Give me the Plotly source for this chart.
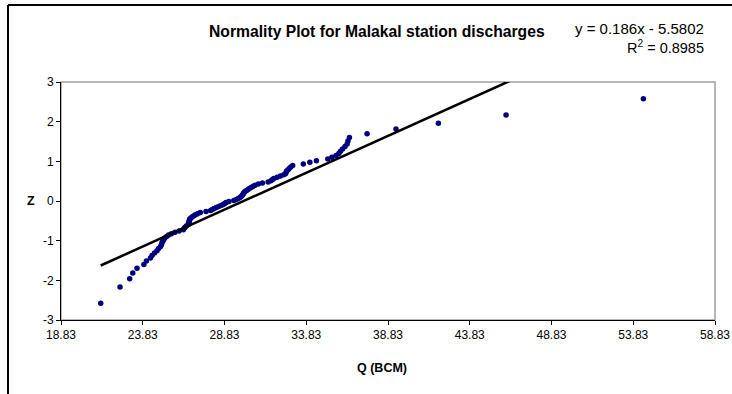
import plotly.graph_objects as go

# ---- data ----
z_values = [
    -2.576, -2.170, -1.960, -1.812, -1.695, -1.598, -1.514, -1.440, -1.372, -1.311,
    -1.254, -1.200, -1.150, -1.103, -1.058, -1.015, -0.974, -0.935, -0.896, -0.860,
    -0.824, -0.789, -0.755, -0.722, -0.690, -0.659, -0.628, -0.598, -0.568, -0.539,
    -0.510, -0.482, -0.454, -0.426, -0.399, -0.372, -0.345, -0.319, -0.292, -0.266,
    -0.240, -0.215, -0.189, -0.164, -0.138, -0.113, -0.088, -0.063, -0.038, -0.013,
    0.013, 0.038, 0.063, 0.088, 0.113, 0.138, 0.164, 0.189, 0.215, 0.240,
    0.266, 0.292, 0.319, 0.345, 0.372, 0.399, 0.426, 0.454, 0.482, 0.510,
    0.539, 0.568, 0.598, 0.628, 0.659, 0.690, 0.722, 0.755, 0.789, 0.824,
    0.860, 0.896, 0.935, 0.974, 1.015, 1.058, 1.103, 1.150, 1.200, 1.254,
    1.311, 1.372, 1.440, 1.514, 1.598, 1.695, 1.812, 1.960, 2.170, 2.576,
]
q_values = [
    21.26, 22.44, 23.03, 23.22, 23.48, 23.90, 24.05, 24.30, 24.40, 24.55,
    24.70, 24.80, 24.92, 24.97, 25.00, 25.05, 25.11, 25.18, 25.29, 25.41,
    25.58, 25.80, 26.05, 26.31, 26.37, 26.42, 26.50, 26.60, 26.63, 26.65,
    26.67, 26.69, 26.71, 26.78, 26.86, 26.96, 27.05, 27.18, 27.35, 27.70,
    27.98, 28.08, 28.20, 28.33, 28.47, 28.62, 28.75, 28.84, 28.93, 29.10,
    29.40, 29.55, 29.67, 29.78, 29.85, 29.91, 29.95, 29.99, 30.03, 30.08,
    30.18, 30.27, 30.38, 30.49, 30.59, 30.70, 30.90, 31.15, 31.50, 31.67,
    31.76, 31.85, 32.05, 32.25, 32.45, 32.56, 32.60, 32.63, 32.72, 32.80,
    32.88, 33.00, 33.65, 34.05, 34.45, 35.15, 35.40, 35.65, 35.82, 35.92,
    36.05, 36.20, 36.33, 36.38, 36.47, 37.55, 39.32, 41.91, 46.05, 54.45,
]
trend_slope = 0.186
trend_intercept = -5.5802
r_squared = 0.8985

x_ticks = [18.83, 23.83, 28.83, 33.83, 38.83, 43.83, 48.83, 53.83, 58.83]
y_ticks = [-3, -2, -1, 0, 1, 2, 3]

title_text = "Normality Plot for Malakal station discharges"
x_title = "Q (BCM)"
y_title = "Z"

# ---- layout geometry (pixels) ----
W, H = 732, 394
L, R, T, B = 61, 715, 82, 320
PW, PH = R - L, B - T


def px(x):
    return (x - L) / PW


def py(y):
    return (B - y) / PH


FONT = "Arial, Liberation Sans, sans-serif"

trend_x = [min(q_values), max(q_values)]
trend_y = [trend_slope * v + trend_intercept for v in trend_x]

fig = go.Figure()
fig.add_trace(go.Scatter(
    x=q_values, y=z_values, mode="markers",
    marker=dict(color="#000080", size=5.5, line=dict(width=0)),
    showlegend=False, cliponaxis=False,
))
fig.add_trace(go.Scatter(
    x=trend_x, y=trend_y, mode="lines",
    line=dict(color="black", width=2.5),
    showlegend=False,
))

fig.update_layout(
    width=W, height=H,
    margin=dict(l=L, r=W - R, t=T, b=H - B, pad=0, autoexpand=False),
    paper_bgcolor="white", plot_bgcolor="white",
    font=dict(family=FONT, size=12, color="black"),
    xaxis=dict(
        range=[x_ticks[0], x_ticks[-1]], tickvals=x_ticks,
        ticktext=[f"{v:.2f}" for v in x_ticks], automargin=False,
        showgrid=False, zeroline=False, showline=True, linecolor="black", linewidth=1,
        ticks="outside", ticklen=4, tickcolor="black", tickwidth=1,
        tickfont=dict(family=FONT, size=12),
    ),
    yaxis=dict(
        range=[y_ticks[0], y_ticks[-1]], tickvals=y_ticks,
        ticktext=[str(v) for v in y_ticks], automargin=False,
        showgrid=False, zeroline=False, showline=True, linecolor="black", linewidth=1,
        ticks="outside", ticklen=4, tickcolor="black", tickwidth=1,
        tickfont=dict(family=FONT, size=12),
    ),
    shapes=[
        dict(type="rect", xref="paper", yref="paper", x0=0, y0=0, x1=1, y1=1,
             line=dict(color="#A0A0A0", width=1.5), layer="below"),
        dict(type="line", xref="paper", yref="paper",
             x0=px(8), x1=px(8), y0=py(5), y1=py(H + 5),
             line=dict(color="black", width=2)),
        dict(type="line", xref="paper", yref="paper",
             x0=px(8), x1=px(W + 5), y0=py(5), y1=py(5),
             line=dict(color="black", width=2)),
    ],
    annotations=[
        dict(text=f"<b>{title_text}</b>", xref="paper", yref="paper",
             x=px(377), y=py(31), xanchor="center", yanchor="middle",
             showarrow=False, font=dict(family=FONT, size=15.7)),
        dict(text=f"y = {trend_slope}x - {abs(trend_intercept)}", xref="paper", yref="paper",
             x=px(706), y=py(29), xanchor="right", yanchor="middle",
             showarrow=False, font=dict(family=FONT, size=15)),
        dict(text=f"R<sup>2</sup> = {r_squared}", xref="paper", yref="paper",
             x=px(706), y=py(47), xanchor="right", yanchor="middle",
             showarrow=False, font=dict(family=FONT, size=14.5)),
        dict(text=f"<b>{y_title}</b>", xref="paper", yref="paper",
             x=px(31), y=py(201), xanchor="center", yanchor="middle",
             showarrow=False, font=dict(family=FONT, size=12.5)),
        dict(text=f"<b>{x_title}</b>", xref="paper", yref="paper",
             x=px(382), y=py(368), xanchor="center", yanchor="middle",
             showarrow=False, font=dict(family=FONT, size=12.5)),
    ],
)

fig.write_html("out.html")
